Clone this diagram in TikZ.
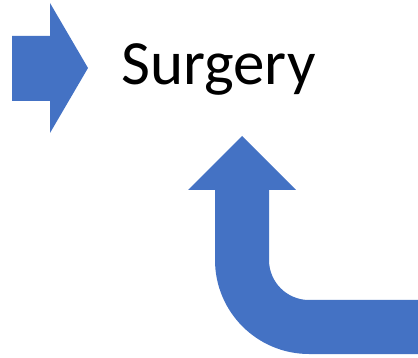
\documentclass[tikz,border=0pt]{standalone}
\usepackage{fontspec}
\setmainfont{Carlito}
\definecolor{arrowblue}{HTML}{4472C4}
\begin{document}
\begin{tikzpicture}[x=1pt,y=-1pt,
  blockarrow/.style={fill=arrowblue,draw=none},
  label/.style={inner sep=0pt,anchor=base west,font=\fontsize{63}{75}\selectfont}]
\useasboundingbox (0,0) rectangle (418,358);
\fill[white] (0,0) rectangle (418,358);
% right arrow
\path[blockarrow] (12,36) -- (50,36) -- (50,3) -- (88,68) -- (50,133) -- (50,101) -- (12,101) -- cycle;
% text
\node[label] (surgery) at (121,85) {Surgery};
% bent arrow
\path[blockarrow] (242,136) -- (296,190) -- (269,190) -- (269,260)
  arc[start angle=180,end angle=90,radius=40] -- (418,300) -- (418,354) -- (309,354)
  arc[start angle=90,end angle=180,radius=94] -- (215,190) -- (188,190) -- cycle;
\end{tikzpicture}
\end{document}
